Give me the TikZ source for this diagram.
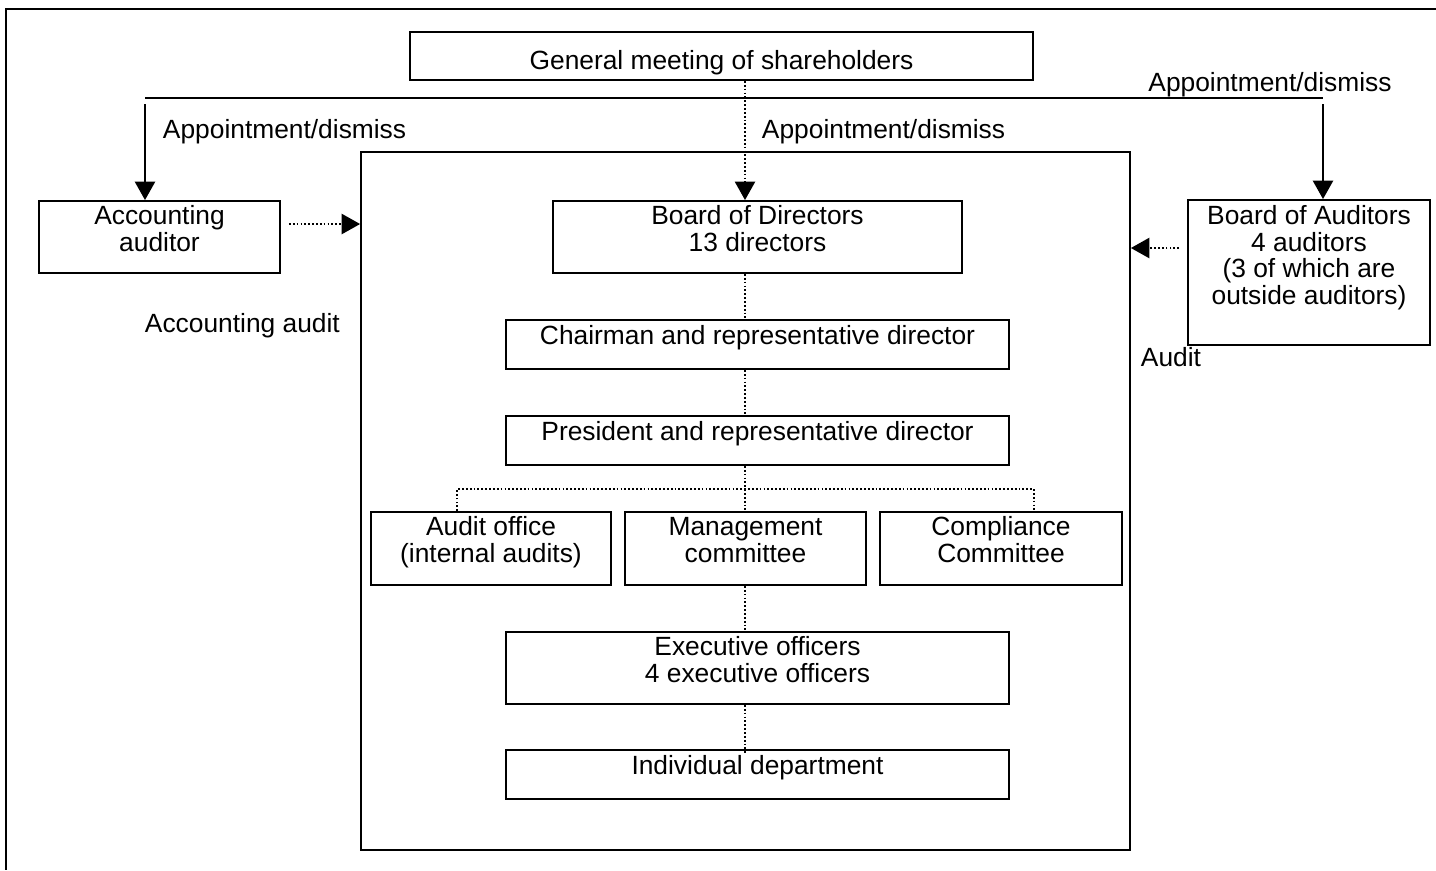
\documentclass[tikz,border=0pt]{standalone}
\usepackage{fontspec}
\setmainfont{Liberation Sans}
\usetikzlibrary{arrows.meta,positioning}

\begin{document}
\begin{tikzpicture}[x=0.02cm,y=-0.02cm,line width=1.1pt,font=\fontsize{15}{15.3}\selectfont]
  \tikzstyle{every node}=[inner sep=0pt]
  \tikzstyle{box}=[draw,align=center,text height=6pt,text depth=6pt]
  \tikzstyle{twoline}=[text height=26pt,text depth=10pt]
  \tikzstyle{arr}=[-{Triangle[length=10.5pt,width=11.5pt]}]
  \tikzstyle{dotline}=[line width=1pt,dash pattern=on 1pt off 1.2pt]
  \useasboundingbox (0,0) rectangle (1436,870);
  \draw (1436,9) -- (6,9) -- (6,870);
  % top level
  \node[box,text height=16.5pt,text depth=1pt,minimum width=12.46cm,minimum height=0.96cm] (b_gms) at (721.5,56) {General meeting of shareholders};
  \node[box,twoline,minimum width=4.82cm,minimum height=1.44cm] (b_acc) at (159.5,237) {Accounting\\auditor};
  \node[box,text height=56.6pt,text depth=19.8pt,minimum width=4.84cm,minimum height=2.9cm] (b_boa) at (1309,272.5) {Board of Auditors\\4 auditors\\(3 of which are\\outside auditors)};
  % company
  \node[draw,minimum width=15.38cm,minimum height=13.96cm] (b_org) at (745.5,501) {};
  \node[box,twoline,minimum width=8.18cm,minimum height=1.44cm] (b_bod) at (757.5,237) {Board of Directors\\13 directors};
  \node[box,minimum width=10.06cm,minimum height=0.98cm] (b_chair) at (757.5,344.5) {Chairman and representative director};
  \node[box,minimum width=10.06cm,minimum height=0.98cm] (b_pres) at (757.5,440.5) {President and representative director};
  \node[box,twoline,minimum width=4.8cm,minimum height=1.46cm] (b_aud) at (491,548.5) {Audit office\\(internal audits)};
  \node[box,twoline,minimum width=4.82cm,minimum height=1.46cm] (b_mgmt) at (745.5,548.5) {Management\\committee};
  \node[box,twoline,minimum width=4.84cm,minimum height=1.46cm] (b_comp) at (1001,548.5) {Compliance\\Committee};
  \node[box,twoline,minimum width=10.06cm,minimum height=1.44cm] (b_exec) at (757.5,668) {Executive officers\\4 executive officers};
  \node[box,minimum width=10.06cm,minimum height=0.98cm] (b_dept) at (757.5,774.5) {Individual department};
  % labels
  \node[anchor=base] (t_ap1) at (1270,91) {Appointment/dismiss};
  \node[anchor=base west] (t_ap2) at (162,138) {Appointment/dismiss};
  \node[anchor=base west] (t_ap3) at (761,138) {Appointment/dismiss};
  \node[anchor=base west] (t_acc) at (144,332) {Accounting audit};
  \node[anchor=base west] (t_aud) at (1140,366) {Audit};
  % connectors
  \coordinate (c_axis) at (745,0);
  \coordinate (c_hl) at (145,98);
  \coordinate (c_hr) at (1323,98);
  \coordinate (c_bl) at (457,489);
  \coordinate (c_br) at (1034,489);
  \draw (c_hl) -- (c_hr);
  \draw[arr] ([yshift=-0.12cm]c_hl) -- (c_hl |- b_acc.north);
  \draw[arr] ([yshift=-0.12cm]c_hr) -- (c_hr |- b_boa.north);
  \draw[dotline,arr] (b_gms.south -| c_axis) -- (b_bod.north -| c_axis);
  \draw[dotline,arr] ([xshift=0.16cm,yshift=0.26cm]b_acc.east) coordinate (c_a) -- (c_a -| b_org.west);
  \draw[dotline,arr] ([xshift=-0.16cm,yshift=0.49cm]b_boa.west) coordinate (c_b) -- (c_b -| b_org.east);
  \path[dotline] (b_bod.south -| c_axis) edge (b_chair.north -| c_axis)
    (b_chair.south -| c_axis) edge (b_pres.north -| c_axis)
    (b_pres.south -| c_axis) edge (b_mgmt.north -| c_axis)
    (b_mgmt.south -| c_axis) edge (b_exec.north -| c_axis)
    (b_exec.south -| c_axis) edge ([yshift=-0.08cm]b_dept.north -| c_axis);
  \draw[dotline] (b_aud.north -| c_bl) -- (c_bl) -- (c_br) -- (b_comp.north -| c_br);
\end{tikzpicture}
\end{document}
